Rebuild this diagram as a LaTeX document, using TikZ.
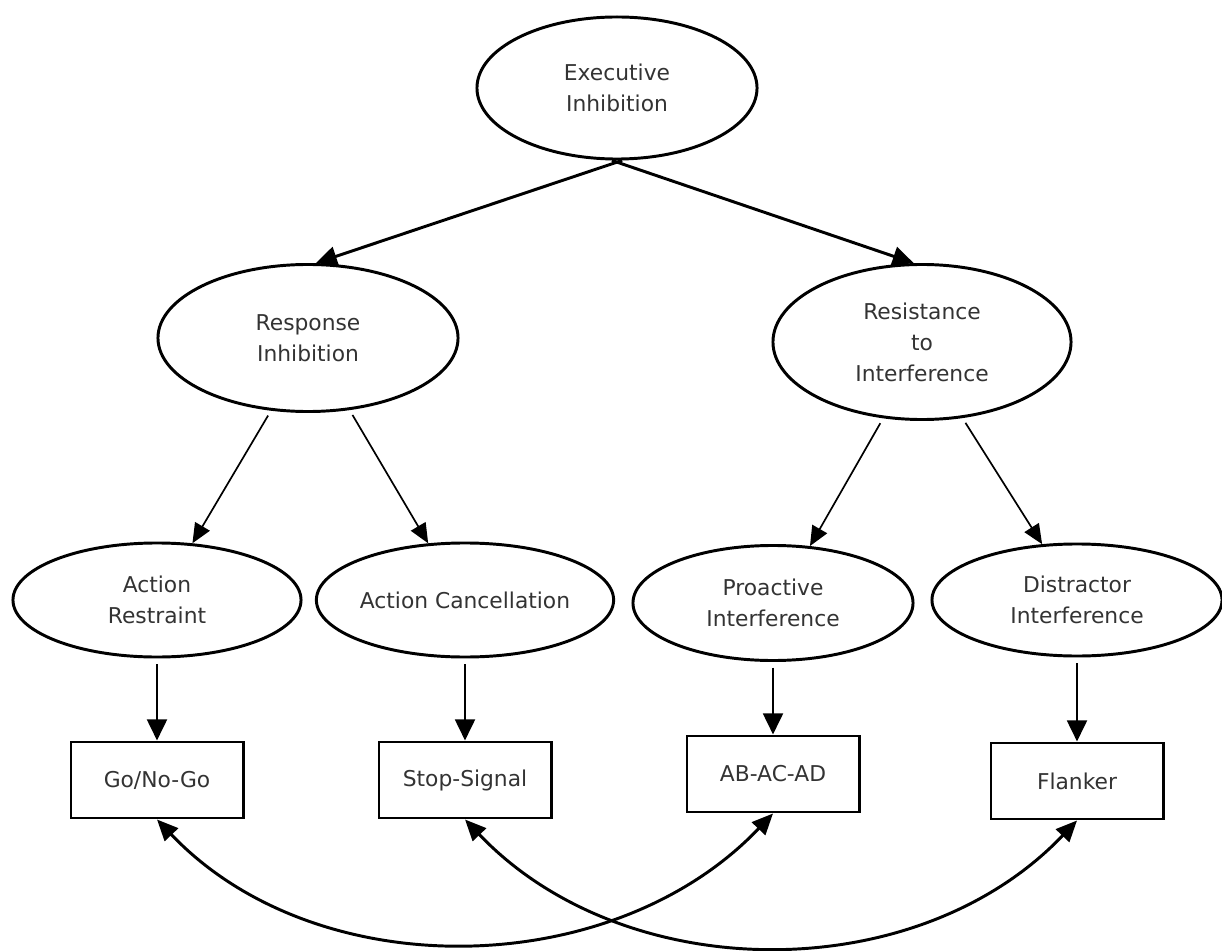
\documentclass[tikz,border=0pt]{standalone}
\usepackage{fontspec}
\setmainfont{DejaVu Sans}
\usetikzlibrary{arrows.meta, positioning, shapes.geometric}

\begin{document}
\begin{tikzpicture}[
                x=0.025cm, y=-0.025cm,
                ellip/.style={draw, ellipse, line width=2.1pt, align=center, inner sep=0pt, text=black!80, font=\fontsize{15.5}{22}\selectfont},
                task/.style={draw, rectangle, line width=2.1pt, minimum width=4.3cm, minimum height=1.9cm, text=black!80, font=\fontsize{15.5}{22}\selectfont},
                thickarrow/.style={-{Triangle[length=15pt, width=14pt]}, line width=2.1pt},
                thinarrow/.style={-{Triangle[length=14pt, width=12pt]}, line width=1.2pt, shorten <=4pt},
                linkarrow/.style={{Triangle[length=15pt, width=13pt]}-{Triangle[length=15pt, width=13pt]}, line width=2.1pt}]
            \useasboundingbox (0,0) rectangle (1222,951);

            % Ellipses
            \node[ellip, minimum width=7cm, minimum height=3.55cm] (exec) at (617,88) {Executive\\Inhibition};
            \node[ellip, minimum width=7.5cm, minimum height=3.675cm] (resp) at (308,338) {Response\\Inhibition};
            \node[ellip, minimum width=7.45cm, minimum height=3.875cm] (resist) at (922,342) {Resistance\\to\\Interference};
            \node[ellip, minimum width=7.2cm, minimum height=2.85cm] (restr) at (157,600) {Action\\Restraint};
            \node[ellip, minimum width=7.3cm, minimum height=2.85cm] (cancel) at (465,600) {Action Cancellation};
            \node[ellip, minimum width=7cm, minimum height=2.875cm] (proact) at (773,603) {Proactive\\Interference};
            \node[ellip, minimum width=7.25cm, minimum height=2.8cm] (distr) at (1077,600) {Distractor\\Interference};

            % Taches
            \node[task] (gonogo) at (157,780) {Go/No-Go};
            \node[task] (stop) at (465,780) {Stop-Signal};
            \node[task] (abacad) at (773,774) {AB-AC-AD};
            \node[task] (flank) at (1077,781) {Flanker};

            % Fleches
            \draw[thickarrow] (exec.-86) -- (resp.84);
            \draw[thickarrow] (exec.-94) -- (resist.96);
            \draw[thinarrow] (resp.-117) -- (restr.58);
            \draw[thinarrow] (resp.-60) -- (cancel.123);
            \draw[thinarrow] (resist.-117) -- (proact.57);
            \draw[thinarrow] (resist.-62) -- (distr.122);
            \draw[thickarrow, shorten <=4pt] (restr) -- (gonogo);
            \draw[thickarrow, shorten <=4pt] (cancel) -- (stop);
            \draw[thickarrow, shorten <=4pt] (proact) -- (abacad);
            \draw[thickarrow, shorten <=4pt] (distr) -- (flank);

            % Liens entre taches
            \draw[linkarrow] (gonogo.south) .. controls +(160,168) and +(-160,168) .. (abacad.south);
            \draw[linkarrow] (stop.south) .. controls +(160,168) and +(-160,168) .. (flank.south);

        \end{tikzpicture}
\end{document}
